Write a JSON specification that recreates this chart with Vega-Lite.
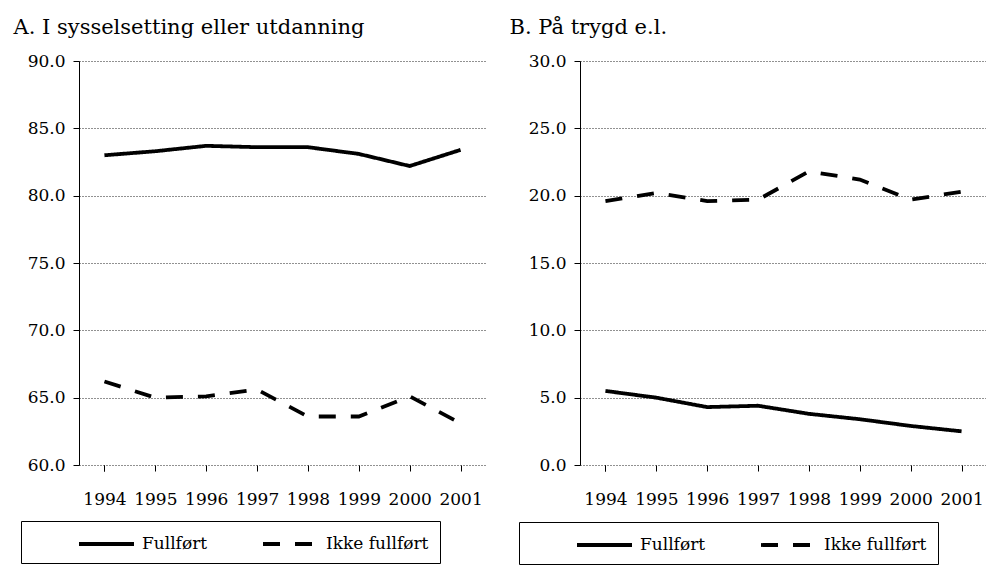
{
  "$schema": "https://vega.github.io/schema/vega-lite/v6.json",
  "background": "white",
  "padding": {"left": 13, "top": 17, "right": 0, "bottom": 0},
  "spacing": 23,
  "config": {
    "font": "DejaVu Serif",
    "view": {"stroke": null},
    "title": {"fontSize": 21, "fontWeight": "normal", "anchor": "start", "color": "black", "font": "DejaVu Serif", "offset": 14},
    "axisX": {
      "labelAngle": 0, "labelFontSize": 17, "labelColor": "black", "labelFont": "DejaVu Serif",
      "domain": false, "ticks": true, "tickColor": "black", "tickSize": 6, "tickBand": "extent",
      "labelPadding": 20, "title": null, "grid": false
    },
    "axisY": {
      "labelFontSize": 17, "labelColor": "black", "labelFont": "DejaVu Serif",
      "domain": true, "domainColor": "black", "domainWidth": 1,
      "ticks": true, "tickColor": "black", "tickSize": 6, "labelPadding": 8,
      "grid": true, "gridColor": "#222", "gridDash": [1, 2], "gridWidth": 1, "gridOpacity": 1,
      "title": null, "format": ".1f"
    },
    "legend": {
      "title": null, "orient": "none", "direction": "horizontal",
      "symbolType": "M3.5,0H9.0", "symbolSize": 400, "symbolStrokeWidth": 3.8, "symbolStrokeColor": "black",
      "labelFontSize": 17, "labelFont": "DejaVu Serif", "labelColor": "black", "labelOffset": 86,
      "strokeColor": "black", "padding": 11, "columnPadding": 8
    }
  },
  "datasets": {
    "a": [
      {"year": "1994", "series": "Fullført", "value": 83.0},
      {"year": "1995", "series": "Fullført", "value": 83.3},
      {"year": "1996", "series": "Fullført", "value": 83.7},
      {"year": "1997", "series": "Fullført", "value": 83.6},
      {"year": "1998", "series": "Fullført", "value": 83.6},
      {"year": "1999", "series": "Fullført", "value": 83.1},
      {"year": "2000", "series": "Fullført", "value": 82.2},
      {"year": "2001", "series": "Fullført", "value": 83.4},
      {"year": "1994", "series": "Ikke fullført", "value": 66.2},
      {"year": "1995", "series": "Ikke fullført", "value": 65.0},
      {"year": "1996", "series": "Ikke fullført", "value": 65.1},
      {"year": "1997", "series": "Ikke fullført", "value": 65.6},
      {"year": "1998", "series": "Ikke fullført", "value": 63.6},
      {"year": "1999", "series": "Ikke fullført", "value": 63.6},
      {"year": "2000", "series": "Ikke fullført", "value": 65.1},
      {"year": "2001", "series": "Ikke fullført", "value": 63.1}
    ],
    "b": [
      {"year": "1994", "series": "Fullført", "value": 5.5},
      {"year": "1995", "series": "Fullført", "value": 5.0},
      {"year": "1996", "series": "Fullført", "value": 4.3},
      {"year": "1997", "series": "Fullført", "value": 4.4},
      {"year": "1998", "series": "Fullført", "value": 3.8},
      {"year": "1999", "series": "Fullført", "value": 3.4},
      {"year": "2000", "series": "Fullført", "value": 2.9},
      {"year": "2001", "series": "Fullført", "value": 2.5},
      {"year": "1994", "series": "Ikke fullført", "value": 19.6},
      {"year": "1995", "series": "Ikke fullført", "value": 20.2},
      {"year": "1996", "series": "Ikke fullført", "value": 19.6},
      {"year": "1997", "series": "Ikke fullført", "value": 19.7},
      {"year": "1998", "series": "Ikke fullført", "value": 21.8},
      {"year": "1999", "series": "Ikke fullført", "value": 21.2},
      {"year": "2000", "series": "Ikke fullført", "value": 19.7},
      {"year": "2001", "series": "Ikke fullført", "value": 20.3}
    ]
  },
  "hconcat": [
    {
      "title": {"text": "A. I sysselsetting eller utdanning", "dx": -7},
      "width": 407,
      "height": 404,
      "data": {"name": "a"},
      "mark": {"type": "line", "color": "black", "strokeWidth": 3.8},
      "encoding": {
        "x": {"field": "year", "type": "ordinal", "scale": {"paddingInner": 0, "paddingOuter": 0}},
        "y": {"field": "value", "type": "quantitative", "scale": {"domain": [60, 90], "nice": false, "zero": false}, "axis": {"values": [60, 65, 70, 75, 80, 85, 90]}},
        "strokeDash": {
          "field": "series", "type": "nominal",
          "scale": {"domain": ["Fullført", "Ikke fullført"], "range": [[1, 0], [17, 15]]},
          "legend": {"legendX": -58, "legendY": 460}
        }
      }
    },
    {
      "title": {"text": "B. På trygd e.l.", "dx": -9},
      "width": 407,
      "height": 404,
      "data": {"name": "b"},
      "mark": {"type": "line", "color": "black", "strokeWidth": 3.8},
      "encoding": {
        "x": {"field": "year", "type": "ordinal", "scale": {"paddingInner": 0, "paddingOuter": 0}},
        "y": {"field": "value", "type": "quantitative", "scale": {"domain": [0, 30], "nice": false}, "axis": {"values": [0, 5, 10, 15, 20, 25, 30]}},
        "strokeDash": {
          "field": "series", "type": "nominal",
          "scale": {"domain": ["Fullført", "Ikke fullført"], "range": [[1, 0], [17, 15]]},
          "legend": {"legendX": -61, "legendY": 461}
        }
      }
    }
  ],
  "resolve": {"legend": {"strokeDash": "independent"}, "scale": {"strokeDash": "independent"}}
}
